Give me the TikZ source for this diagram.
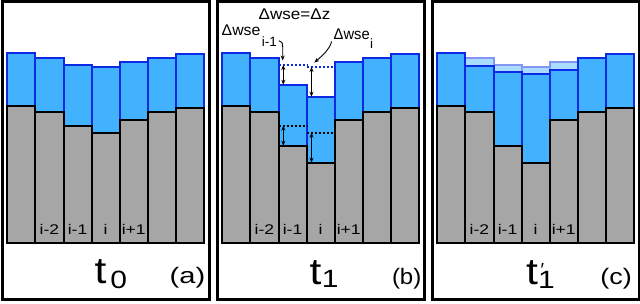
\documentclass[tikz,border=0pt]{standalone}
\usepackage{fontspec}
\setmainfont{Liberation Sans}
\usetikzlibrary{arrows.meta}
\definecolor{wblue}{RGB}{66,178,255}
\definecolor{bblue}{RGB}{12,42,230}
\definecolor{bedgray}{RGB}{166,166,166}
\newcommand\xwide[2][1.25]{\scalebox{#1}[1]{#2}}
\newcommand\drawbars[2]{%
  \foreach \w/\b [count=\k from 0] in {#2}{%
    \path[water] ({#1+7.3+\k*28.1},\w) rectangle ({#1+35.4+\k*28.1},\b);}
  \foreach \w/\b [count=\k from 0] in {#2}{%
    \path[ground] ({#1+7.3+\k*28.1},\b) rectangle ({#1+35.4+\k*28.1},242.7);}
  \foreach \t [count=\k from 1] in {i-2,i-1,i,i+1}{%
    \node[lbl,anchor=base] (lab#1-\k) at ({#1+21.35+\k*28.1},234.3) {\xwide{\t}};}
}
\begin{document}
\begin{tikzpicture}[x=1pt,y=-1pt,
  frame/.style={draw=black,line width=2.5pt},
  water/.style={fill=wblue,draw=bblue,line width=2pt},
  oldwater/.style={fill=wblue!45,draw=bblue!50,line width=2pt},
  ground/.style={fill=bedgray,draw=black,line width=2pt},
  lbl/.style={inner sep=0pt,font=\fontsize{14}{14}\selectfont},
  note/.style={inner sep=0pt,font=\fontsize{15.5}{15.5}\selectfont},
  bigt/.style={inner sep=0pt,font=\fontsize{37}{37}\selectfont},
  tag/.style={inner sep=0pt,font=\fontsize{22.4}{22.4}\selectfont},
  bdots/.style={draw=bblue,line width=2pt,dash pattern=on 2pt off 2pt},
  kdots/.style={draw=black,line width=2pt,dash pattern=on 2pt off 2pt},
  dim/.style={draw=black,line width=0.9pt,{Stealth[length=5pt,width=4pt]}-{Stealth[length=5pt,width=4pt]}},
  ptr/.style={draw=black,line width=0.9pt,-{Stealth[length=5pt,width=4pt]}}
]
\useasboundingbox (0,0) rectangle (640,303);
\fill[white] (0,0) rectangle (640,303);

% ---- panel (a)
\drawbars{0}{52.7/106,57.7/111.7,65/125.7,67/132.7,61.7/119.7,57.7/111.7,54.3/107.7}
% ---- panel (b)
\drawbars{215}{52.7/106,57.7/111.7,84.7/145.7,96.7/162.7,61.7/119.7,57.7/111.7,54.3/107.7}
% ---- panel (c)
\foreach \o/\n [count=\k from 1] in {57.7/66,65/71.7,67/74,61.7/70}{%
  \path[oldwater] ({430+7.3+\k*28.1},\o) rectangle ({430+35.4+\k*28.1},\n);}
\drawbars{430}{52.7/106,66/111.7,71.7/145.7,74/162.7,70/119.7,57.7/111.7,54.3/107.7}

% frames
\draw[frame] (2.7,1.7) rectangle (209.3,299.3);
\draw[frame] (217.7,1.7) rectangle (424.3,299.3);
\draw[frame] (432.7,1.7) rectangle (639,299.3);

% panel (b) annotations
\draw[bdots] (278.5,65) -- (306.6,65);
\draw[bdots] (306.6,67) -- (334.7,67);
\draw[kdots] (278.5,125.7) -- (306.6,125.7);
\draw[kdots] (306.6,132.7) -- (334.7,132.7);
\draw[dim] (283.3,65) -- (283.3,84.7);
\draw[dim] (311.5,67) -- (311.5,96.7);
\draw[dim] (283.3,125.7) -- (283.3,145.7);
\draw[dim] (311.5,132.7) -- (311.5,162.7);

\node[note,anchor=base west] (dz) at (258.5,19.8) {\xwide[1.1]{Δwse=Δz}};
\node[note,anchor=base west] (wl) at (221.5,35.3) {\xwide[1.02]{Δwse}\hspace{1.5pt}\raisebox{-11pt}{\fontsize{13.5}{13.5}\selectfont i-1}};
\node[note,anchor=base west] (wr) at (333.5,39.3) {\xwide[0.95]{Δwse}\hspace{0.5pt}\raisebox{-9pt}{\fontsize{13.5}{13.5}\selectfont i}};
\coordinate (tipl) at (282.7,60.5);
\coordinate (tipr) at (314.3,62.7);
\draw[ptr] (278.8,40.7) .. controls (281.7,41) and (282.7,43) .. (282.7,47) -- (tipl);
\draw[ptr] (331.7,41.5) .. controls (329,50) and (324,54) .. (tipr);

% time labels
\node[bigt,anchor=base west] (ta) at (94.3,283.3)
  {\xwide[1.15]{t}\hspace{4pt}\raisebox{-5pt}{\fontsize{25}{25}\selectfont\xwide[1.2]{0}}};
\node[tag,anchor=base east] (taga) at (205.5,283.3) {\xwide[1.3]{(a)}};

\node[bigt,anchor=base west] (tb) at (309.3,284.3)
  {\xwide[1.15]{t}\hspace{0.6pt}\raisebox{-3.4pt}{\fontsize{25}{25}\selectfont\xwide[1.2]{1}}};
\node[tag,anchor=base east] (tagb) at (421.5,284.3) {\xwide[1.07]{(b)}};

\node[bigt,anchor=base west] (tc) at (526,284.3)
  {\xwide[1.15]{t}\rlap{\hspace{2.5pt}\raisebox{8pt}{\fontsize{19}{19}\selectfont ′}}\raisebox{-4pt}{\fontsize{25}{25}\selectfont\xwide[1.2]{1}}};
\node[tag,anchor=base east] (tagc) at (632,284.3) {\xwide[1.2]{(c)}};
\end{tikzpicture}
\end{document}
